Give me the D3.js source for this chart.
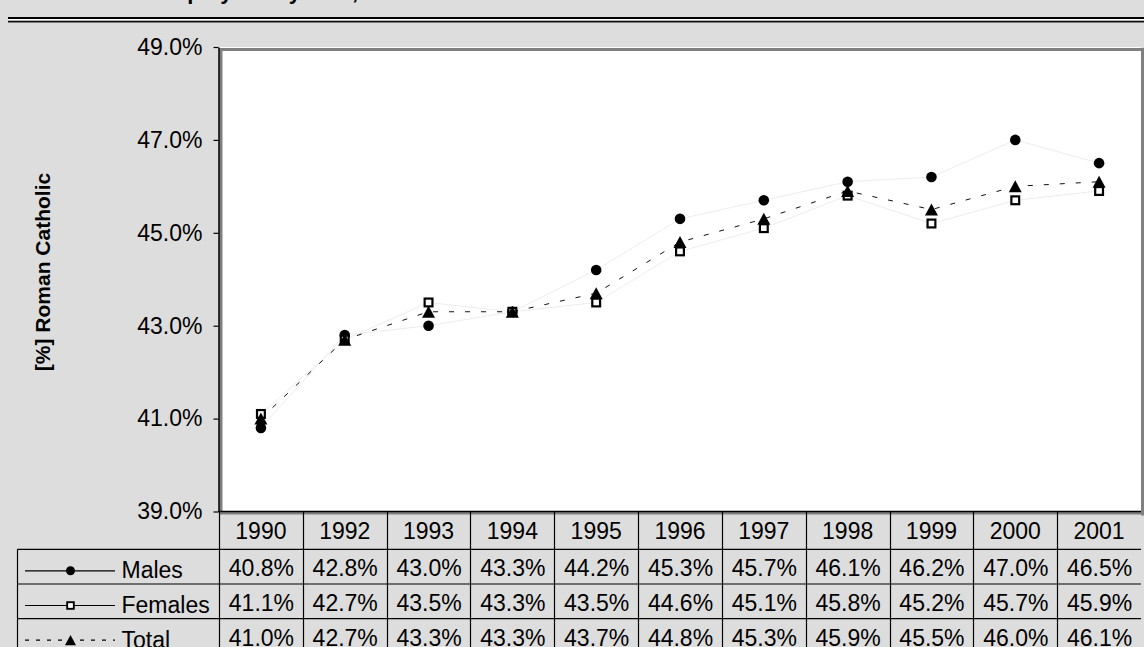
<!DOCTYPE html>
<html>
<head>
<meta charset="utf-8">
<script src="https://cdn.jsdelivr.net/npm/d3@7/dist/d3.min.js"></script>
<style>
  html, body { margin: 0; padding: 0; background: #dddddd; }
  svg { display: block; }
</style>
</head>
<body>
<svg id="chart" width="1144" height="647"></svg>
<script>
// Share of Roman Catholics among employees, by year
const years   = ["1990", "1992", "1993", "1994", "1995", "1996", "1997", "1998", "1999", "2000", "2001"];
const males   = [40.8, 42.8, 43.0, 43.3, 44.2, 45.3, 45.7, 46.1, 46.2, 47.0, 46.5];
const females = [41.1, 42.7, 43.5, 43.3, 43.5, 44.6, 45.1, 45.8, 45.2, 45.7, 45.9];
const total   = [41.0, 42.7, 43.3, 43.3, 43.7, 44.8, 45.3, 45.9, 45.5, 46.0, 46.1];
const yTicks  = [39, 41, 43, 45, 47, 49];
const seriesNames = ["Males", "Females", "Total"];
const titleText = "Catholic Employees by Year, Males and Females";
const yTitle = "[%] Roman Catholic";

const FONT = "'Liberation Sans', Arial, Helvetica, sans-serif";
const W = 1144, H = 647;
const plot = { left: 219, right: 1141, top: 47, bottom: 511.5 };

const svg = d3.select("#chart");
svg.append("rect").attr("width", W).attr("height", H).attr("fill", "#dddddd");

// Title (runs off the top edge) and double rule below it
const title = svg.append("text")
  .attr("x", 0).attr("y", -1)
  .attr("font-family", FONT).attr("font-size", 22).attr("font-weight", "bold")
  .attr("fill", "#000")
  .text(titleText);
title.attr("x", 153 - title.node().getSubStringLength(0, 9));

svg.append("rect").attr("x", 8).attr("y", 17).attr("width", W - 8).attr("height", 2).attr("fill", "#000");
svg.append("rect").attr("x", 8).attr("y", 19).attr("width", W - 8).attr("height", 1.7).attr("fill", "#fff");
svg.append("rect").attr("x", 8).attr("y", 20.7).attr("width", W - 8).attr("height", 1.8).attr("fill", "#111");

// Scales
const x = d3.scaleBand().domain(years).range([plot.left, plot.right]);
const y = d3.scaleLinear().domain([39, 49]).range([plot.bottom, plot.top]);
const cx = d => x(d) + x.bandwidth() / 2;

// Plot area with its grey frame
svg.append("rect")
  .attr("x", plot.left).attr("y", plot.top)
  .attr("width", plot.right - plot.left).attr("height", plot.bottom - plot.top)
  .attr("fill", "#ffffff");
const frame = svg.append("g").attr("fill", "#808080");
frame.append("rect").attr("x", plot.left).attr("y", plot.top + 1).attr("width", W - plot.left).attr("height", 3);
frame.append("rect").attr("x", plot.left).attr("y", plot.top + 1).attr("width", 3.5).attr("height", plot.bottom - plot.top);
frame.append("rect").attr("x", plot.right).attr("y", plot.top + 1).attr("width", W - plot.right).attr("height", plot.bottom - plot.top + 3);
frame.append("rect").attr("x", plot.left).attr("y", plot.bottom + 0.5).attr("width", W - plot.left).attr("height", 2.5);

// Series lines
const series = [
  { name: "Males",   values: males,   stroke: "#ededed", dash: null },
  { name: "Females", values: females, stroke: "#ededed", dash: null },
  { name: "Total",   values: total,   stroke: "#111111", dash: "5,11" }
];
const line = d3.line().x((v, i) => cx(years[i])).y(v => y(v));
series.forEach(s => {
  svg.append("path")
    .attr("d", line(s.values))
    .attr("fill", "none")
    .attr("stroke", s.stroke)
    .attr("stroke-width", 1)
    .attr("stroke-dasharray", s.dash);
});

// Marker drawing helpers
function drawMarker(g, name, px, py, k) {
  if (name === "Males") {
    g.append("circle").attr("cx", px).attr("cy", py).attr("r", 5.3 * k).attr("fill", "#000");
  } else if (name === "Females") {
    const s = 7.8 * k;
    g.append("rect").attr("x", px - s / 2).attr("y", py - s / 2).attr("width", s).attr("height", s)
      .attr("fill", "#fff").attr("stroke", "#000").attr("stroke-width", 2.2 * k);
  } else {
    const w = 13 * k, h = 12 * k;
    g.append("path")
      .attr("d", `M${px},${py - h / 2}L${px + w / 2},${py + h / 2}L${px - w / 2},${py + h / 2}Z`)
      .attr("fill", "#000");
  }
}

const markers = svg.append("g");
series.forEach(s => {
  s.values.forEach((v, i) => drawMarker(markers, s.name, cx(years[i]), y(v), 1));
});

// Y axis
const yAxis = svg.append("g")
  .attr("transform", `translate(${plot.left - 0.5},0)`)
  .call(d3.axisLeft(y).tickValues(yTicks).tickSize(5).tickSizeOuter(0).tickPadding(11)
    .tickFormat(d => d.toFixed(1) + "%"));
yAxis.attr("font-family", FONT).attr("font-size", 23);
yAxis.selectAll("text").attr("fill", "#000");
yAxis.selectAll("line").attr("stroke", "#000").attr("stroke-width", 1.2);
yAxis.select(".domain").attr("stroke", "#000").attr("stroke-width", 1.5);

svg.append("text")
  .attr("transform", "translate(50,272) rotate(-90)")
  .attr("text-anchor", "middle")
  .attr("font-family", FONT).attr("font-size", 21).attr("font-weight", "bold")
  .attr("fill", "#000")
  .text(yTitle);

// Bottom axis line
svg.append("line")
  .attr("x1", plot.left - 1).attr("x2", plot.right)
  .attr("y1", plot.bottom).attr("y2", plot.bottom)
  .attr("stroke", "#000").attr("stroke-width", 1.3);

// Data table
const rowH = 34.7;
const rowTop0 = 549.3;
const tableLeft = 17.5;
const tableBottom = rowTop0 + rowH * seriesNames.length;
const table = svg.append("g").attr("font-family", FONT).attr("font-size", 23).attr("fill", "#000");

// column separators
years.forEach(yr => {
  const xx = Math.round(x(yr)) + 0.5;
  table.append("line").attr("x1", xx).attr("x2", xx).attr("y1", plot.bottom).attr("y2", tableBottom)
    .attr("stroke", "#000").attr("stroke-width", 1.2);
});
table.append("line").attr("x1", tableLeft).attr("x2", tableLeft).attr("y1", rowTop0).attr("y2", tableBottom)
  .attr("stroke", "#000").attr("stroke-width", 1.2);
// row separators
seriesNames.forEach((n, i) => {
  const yy = rowTop0 + i * rowH;
  table.append("line").attr("x1", tableLeft).attr("x2", plot.right).attr("y1", yy).attr("y2", yy)
    .attr("stroke", "#000").attr("stroke-width", 1.2);
});

// header row: years
years.forEach(yr => {
  table.append("text").attr("x", cx(yr)).attr("y", plot.bottom + 27.8)
    .attr("text-anchor", "middle").text(yr);
});

// series rows
series.forEach((s, i) => {
  const top = rowTop0 + i * rowH;
  s.values.forEach((v, j) => {
    table.append("text").attr("x", cx(years[j]) + 0.5).attr("y", top + 26.8)
      .attr("text-anchor", "middle").text(v.toFixed(1) + "%");
  });
  // legend key
  const ky = top + 21.5;
  table.append("line").attr("x1", 25).attr("x2", 115).attr("y1", ky).attr("y2", ky)
    .attr("stroke", "#000").attr("stroke-width", 1.2)
    .attr("stroke-dasharray", s.name === "Total" ? "4,7" : null);
  drawMarker(table, s.name, 70.5, ky, 0.85);
  table.append("text").attr("x", 121.5).attr("y", top + 28.8).text(s.name);
});
</script>
</body>
</html>
